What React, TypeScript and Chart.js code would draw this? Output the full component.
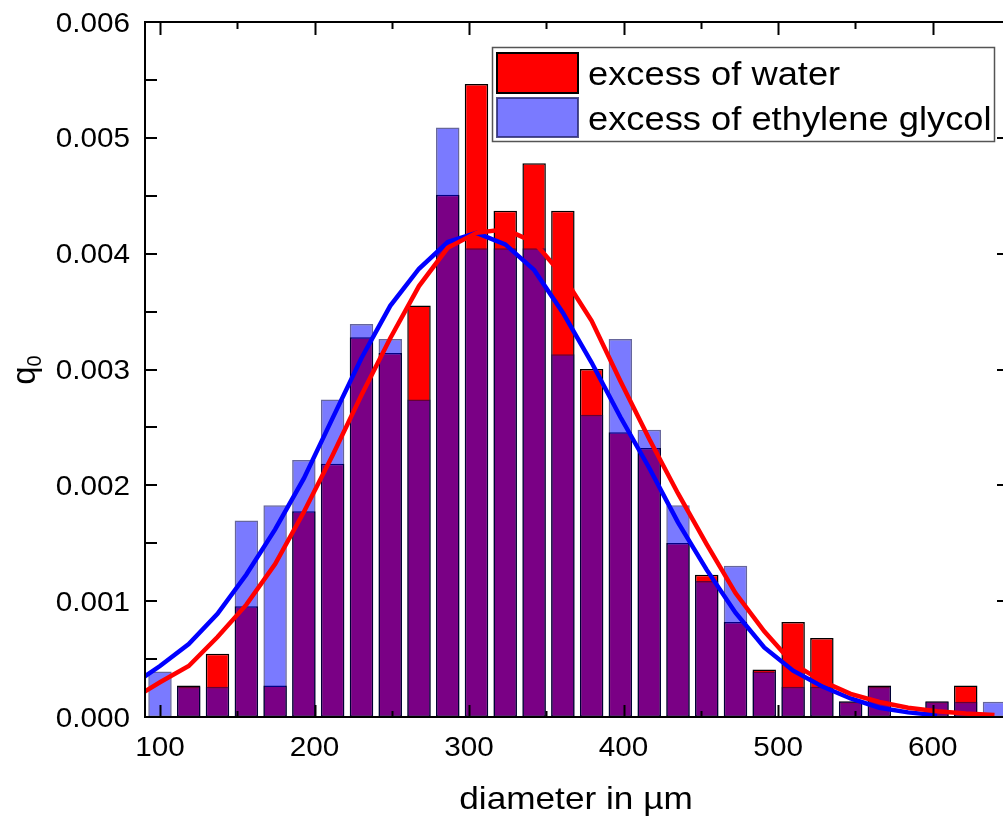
import { useEffect, useRef } from "react";
import { Chart, registerables } from "chart.js";

Chart.register(...registerables);

// Histogram bin centres (diameter in µm)
const binCenters = [
  100, 118.6, 137.2, 155.9, 174.5, 193.1, 211.7, 230.4, 249.0, 267.6,
  286.2, 304.8, 323.4, 342.1, 360.7, 379.3, 397.9, 416.6, 435.2, 453.8,
  472.4, 491.0, 509.7, 528.3, 546.9, 565.5, 584.1, 602.8, 621.4, 640.0,
];

// Number density q0 per bin, excess of water
const waterQ0 = [
  0, 0.000273, 0.000546, 0.000956, 0.000273, 0.001776, 0.002186, 0.003278, 0.003142, 0.003552,
  0.004508, 0.005464, 0.004371, 0.004781, 0.004371, 0.003005, 0.002459, 0.002322, 0.001503, 0.001229,
  0.00082, 0.00041, 0.00082, 0.000683, 0.000137, 0.000273, 0, 0.000137, 0.000273, 0,
];

// Number density q0 per bin, excess of ethylene glycol
const glycolQ0 = [
  0.000392, 0.000261, 0.000261, 0.001697, 0.001827, 0.002219, 0.002741, 0.003393, 0.003263, 0.002741,
  0.00509, 0.004046, 0.004046, 0.004046, 0.003132, 0.00261, 0.003263, 0.00248, 0.001827, 0.001175,
  0.001305, 0.000392, 0.000261, 0.000261, 0.000131, 0.000261, 0, 0.000131, 0.000131, 0.000131,
];

// Diameters at which the fitted distributions are evaluated
const fitDiameters = [
  81.4, 100, 118.6, 137.2, 155.9, 174.5, 193.1, 211.7, 230.4, 249.0, 267.6,
  286.2, 304.8, 323.4, 342.1, 360.7, 379.3, 397.9, 416.6, 435.2, 453.8,
  472.4, 491.0, 509.7, 528.3, 546.9, 565.5, 584.1, 602.8, 621.4, 640.0,
];

const waterFit = [
  0.00015, 0.0003, 0.00044, 0.00069, 0.00097, 0.00132, 0.00177, 0.00226, 0.00278, 0.00327, 0.00372,
  0.00405, 0.00418, 0.00421, 0.0041, 0.00381, 0.00342, 0.0029, 0.0024, 0.00193, 0.00149,
  0.00107, 0.00074, 0.00046, 0.00031, 0.0002, 0.00013, 0.00008, 0.00005, 0.00003, 0.000017,
];

const glycolFit = [
  0.00027, 0.00044, 0.00063, 0.00089, 0.00123, 0.00162, 0.00206, 0.00258, 0.0031, 0.00355, 0.00387,
  0.0041, 0.00418, 0.00408, 0.00386, 0.00349, 0.00306, 0.00259, 0.00215, 0.00168, 0.00127,
  0.0009, 0.0006, 0.0004, 0.000265, 0.00016, 0.00008, 0.00004, 0.000015,
];

const xTickValues = [100, 200, 300, 400, 500, 600];
const xTickLabels = ["100", "200", "300", "400", "500", "600"];
const xMinorTicks = [150, 250, 350, 450, 550];
const yTickValues = [0, 0.001, 0.002, 0.003, 0.004, 0.005, 0.006];
const yTickLabels = ["0.000", "0.001", "0.002", "0.003", "0.004", "0.005", "0.006"];
const yMinorTicks = [0.0005, 0.0015, 0.0025, 0.0035, 0.0045, 0.0055];

const seriesNames = ["excess of water", "excess of ethylene glycol"];

const FONT = '"Liberation Sans", Arial, Helvetica, sans-serif';
const STRETCH = 1.1;
const RED = "#ff0000";
const BLUE_FILL = "rgba(0, 0, 255, 0.52)";
const BLUE_EDGE = "rgba(0, 0, 90, 0.6)";

function stretchedText(
  ctx: CanvasRenderingContext2D,
  text: string,
  x: number,
  y: number,
  align: CanvasTextAlign,
  size: number
) {
  ctx.save();
  ctx.font = `${size}px ${FONT}`;
  ctx.translate(x, y);
  ctx.scale(STRETCH, 1);
  ctx.textAlign = align;
  ctx.textBaseline = "alphabetic";
  ctx.fillStyle = "#000";
  ctx.fillText(text, 0, 0);
  ctx.restore();
}

const framePlugin = {
  id: "originFrame",
  afterDatasetsDraw(chart: any) {
    const { ctx, chartArea } = chart;
    const xs = chart.scales.x;
    const ys = chart.scales.y;
    const { left, right, top, bottom } = chartArea;
    ctx.save();
    ctx.strokeStyle = "#000";
    ctx.lineWidth = 2;
    ctx.lineCap = "butt";
    ctx.beginPath();
    ctx.rect(left, top, right - left, bottom - top);
    ctx.stroke();

    const line = (x1: number, y1: number, x2: number, y2: number) => {
      ctx.beginPath();
      ctx.moveTo(x1, y1);
      ctx.lineTo(x2, y2);
      ctx.stroke();
    };
    xTickValues.forEach((v) => {
      const px = Math.round(xs.getPixelForValue(v)) + 0.5;
      line(px, bottom, px, bottom - 12);
      line(px, top, px, top + 13);
    });
    xMinorTicks.forEach((v) => {
      const px = Math.round(xs.getPixelForValue(v)) + 0.5;
      line(px, bottom, px, bottom - 6);
      line(px, top, px, top + 7);
    });
    yTickValues.forEach((v) => {
      const py = Math.round(ys.getPixelForValue(v));
      line(left, py, left + 12, py);
      line(right, py, right - 8, py);
    });
    yMinorTicks.forEach((v) => {
      const py = Math.round(ys.getPixelForValue(v));
      line(left, py, left + 12, py);
    });
    ctx.restore();
  },
  afterDraw(chart: any) {
    const { ctx, chartArea } = chart;
    const xs = chart.scales.x;
    const ys = chart.scales.y;

    // tick labels
    yTickValues.forEach((v, i) => {
      const py = ys.getPixelForValue(v);
      stretchedText(ctx, yTickLabels[i], chartArea.left - 15, py + 9.6, "right", 27);
    });
    xTickValues.forEach((v, i) => {
      const px = xs.getPixelForValue(v);
      stretchedText(ctx, xTickLabels[i], px, 756, "center", 27);
    });

    // axis titles
    stretchedText(ctx, "diameter in µm", (chartArea.left + 1003) / 2 + 2, 809, "center", 32);

    ctx.save();
    ctx.translate(35, 370);
    ctx.rotate(-Math.PI / 2);
    ctx.fillStyle = "#000";
    ctx.textBaseline = "alphabetic";
    ctx.font = `33px ${FONT}`;
    const qW = ctx.measureText("q").width;
    ctx.font = `20px ${FONT}`;
    const sW = ctx.measureText("0").width;
    const start = -(qW + sW) / 2;
    ctx.font = `33px ${FONT}`;
    ctx.fillText("q", start, 0);
    ctx.font = `20px ${FONT}`;
    ctx.fillText("0", start + qW, 6);
    ctx.restore();

    // legend
    ctx.save();
    ctx.fillStyle = "#fff";
    ctx.fillRect(492.5, 47.5, 502, 94);
    ctx.strokeStyle = "#555";
    ctx.lineWidth = 1.5;
    ctx.strokeRect(492.5, 47.5, 502, 94);

    ctx.fillStyle = RED;
    ctx.fillRect(497, 53, 81, 40);
    ctx.strokeStyle = "#000";
    ctx.lineWidth = 2;
    ctx.strokeRect(497, 53, 81, 40);

    ctx.fillStyle = BLUE_FILL;
    ctx.fillRect(497, 98, 81, 39);
    ctx.strokeStyle = "rgba(40, 40, 110, 0.8)";
    ctx.strokeRect(497, 98, 81, 39);
    ctx.restore();

    stretchedText(ctx, seriesNames[0], 588, 85, "left", 33);
    stretchedText(ctx, seriesNames[1], 588, 130, "left", 33);
  },
};

export default function App() {
  const canvasRef = useRef<HTMLCanvasElement | null>(null);

  useEffect(() => {
    const canvas = canvasRef.current;
    if (!canvas) return;

    const chart = new Chart(canvas, {
      type: "bar",
      data: {
        datasets: [
          {
            type: "line",
            label: "fit water",
            data: fitDiameters.map((x, i) => ({ x, y: waterFit[i] })),
            borderColor: RED,
            borderWidth: 4.5,
            pointRadius: 0,
            tension: 0,
            fill: false,
            order: 0,
          } as any,
          {
            type: "line",
            label: "fit ethylene glycol",
            data: glycolFit.map((y, i) => ({ x: fitDiameters[i], y })),
            borderColor: "#0000ff",
            borderWidth: 4.5,
            pointRadius: 0,
            tension: 0,
            fill: false,
            order: 1,
          } as any,
          {
            type: "bar",
            label: seriesNames[1],
            data: binCenters.map((x, i) => ({ x, y: glycolQ0[i] })),
            backgroundColor: BLUE_FILL,
            borderColor: BLUE_EDGE,
            borderWidth: 1.5,
            borderSkipped: false,
            grouped: false,
            barPercentage: 0.816,
            categoryPercentage: 1,
            order: 2,
          } as any,
          {
            type: "bar",
            label: seriesNames[0],
            data: binCenters.map((x, i) => ({ x, y: waterQ0[i] })),
            backgroundColor: RED,
            borderColor: "#000",
            borderWidth: 1.5,
            borderSkipped: false,
            grouped: false,
            barPercentage: 0.816,
            categoryPercentage: 1,
            order: 3,
          } as any,
        ],
      },
      options: {
        responsive: false,
        animation: false,
        devicePixelRatio: 1,
        layout: { padding: { left: 145, top: 22, right: 1, bottom: 102 } },
        plugins: {
          legend: { display: false },
          tooltip: { enabled: false },
        },
        scales: {
          x: {
            type: "linear",
            display: false,
            offset: false,
            min: 90.3,
            max: 646.8,
          },
          y: {
            type: "linear",
            display: false,
            min: 0,
            max: 0.006,
          },
        },
      } as any,
      plugins: [framePlugin],
    });

    return () => chart.destroy();
  }, []);

  return (
    <div
      style={{
        position: "absolute",
        left: 0,
        top: 0,
        width: 1003,
        height: 819,
        overflow: "hidden",
        background: "#fff",
      }}
    >
      <canvas ref={canvasRef} width={1006} height={819} />
    </div>
  );
}
